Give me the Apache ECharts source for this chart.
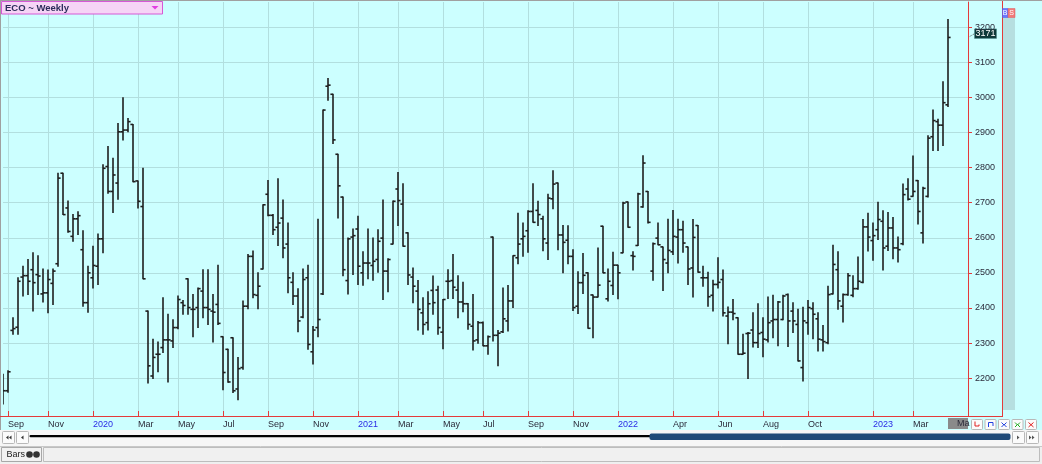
<!DOCTYPE html>
<html><head><meta charset="utf-8">
<script src="https://cdn.jsdelivr.net/npm/echarts@6/dist/echarts.min.js"></script>
<style>html,body{margin:0;padding:0;background:#ccffff;overflow:hidden}#c{width:1042px;height:464px}</style>
</head><body><div id="c"></div>
<script>
const title = 'ECO ~ Weekly';
const opens = [2205,2164,2336,2345,2488,2492,2509,2495,2440,2443,2470,2526,2784,2685,2604,2654,2566,2415,2486,2519,
2597,2803,2732,2756,2902,2907,2923,2762,2689,2391,2206,2268,2287,2309,2306,2344,2415,2483,2396,2401,
2448,2401,2391,2410,2318,2282,2315,2169,2230,2405,2547,2436,2511,2724,2664,2630,2656,2582,2473,2434,
2374,2486,2275,2344,2440,3032,3009,2838,2716,2478,2602,2625,2500,2528,2521,2538,2599,2505,2582,2739,
2696,2614,2488,2448,2386,2358,2450,2451,2331,2476,2478,2451,2417,2412,2348,2309,2358,2292,2602,2322,
2332,2363,2420,2543,2597,2620,2675,2678,2654,2585,2711,2756,2608,2593,2547,2405,2472,2500,2437,2431,
2633,2426,2464,2522,2557,2702,2549,2578,2688,2732,2505,2599,2574,2528,2560,2602,2623,2574,2514,2635,
2486,2486,2436,2467,2481,2377,2388,2372,2268,2327,2337,2301,2330,2309,2363,2367,2367,2438,2391,2353,
2230,2358,2398,2369,2309,2301,2440,2509,2405,2438,2436,2455,2473,2631,2592,2623,2647,2576,2628,2571,
2583,2739,2718,2763,2614,2718,2888,2931,2921,2979];
const highs = [2211,2221,2372,2486,2519,2538,2557,2549,2511,2508,2511,2784,2784,2705,2666,2674,2620,2519,2576,2611,
2808,2860,2827,2926,2999,2940,2923,2762,2798,2391,2311,2303,2429,2382,2366,2434,2421,2483,2438,2457,
2509,2509,2438,2522,2318,2282,2315,2259,2420,2552,2562,2500,2694,2763,2666,2768,2708,2642,2500,2455,
2511,2522,2347,2653,2964,3054,3009,2838,2716,2599,2625,2661,2560,2625,2599,2623,2708,2540,2705,2786,
2754,2614,2514,2478,2429,2446,2491,2462,2424,2509,2552,2492,2473,2413,2438,2361,2360,2320,2602,2336,
2457,2464,2549,2670,2642,2677,2754,2704,2661,2724,2791,2756,2635,2634,2566,2503,2555,2500,2437,2571,
2633,2511,2559,2522,2701,2702,2560,2727,2834,2732,2585,2642,2574,2653,2678,2653,2647,2574,2652,2635,
2519,2502,2479,2543,2508,2403,2424,2372,2325,2330,2386,2412,2372,2431,2436,2418,2436,2440,2415,2396,
2402,2421,2415,2386,2350,2462,2579,2560,2440,2498,2492,2545,2652,2670,2642,2701,2677,2672,2658,2602,
2753,2768,2833,2763,2744,2891,2964,2938,3045,3222];
const lows = [2126,2160,2325,2325,2434,2438,2391,2438,2417,2386,2410,2519,2666,2616,2590,2609,2405,2388,2457,2467,
2557,2727,2672,2710,2879,2902,2760,2685,2483,2186,2199,2218,2273,2189,2287,2341,2382,2382,2318,2344,
2372,2353,2303,2353,2167,2188,2159,2138,2225,2398,2429,2398,2511,2663,2609,2578,2543,2443,2410,2332,
2372,2282,2240,2318,2438,2992,2869,2656,2492,2440,2495,2467,2465,2483,2479,2502,2424,2446,2582,2635,
2576,2467,2415,2337,2325,2337,2382,2325,2284,2427,2427,2372,2389,2339,2280,2299,2292,2268,2306,2235,
2330,2334,2401,2526,2547,2559,2644,2635,2563,2538,2683,2566,2500,2526,2393,2384,2441,2342,2315,2431,
2500,2420,2438,2426,2557,2630,2508,2578,2687,2642,2479,2580,2450,2500,2552,2528,2559,2467,2431,2502,
2462,2405,2391,2457,2377,2298,2366,2268,2268,2199,2289,2287,2261,2303,2315,2292,2366,2290,2330,2249,
2192,2325,2312,2277,2277,2298,2440,2396,2360,2436,2432,2453,2472,2562,2536,2595,2508,2564,2540,2531,
2580,2708,2718,2639,2585,2716,2849,2849,2863,2974];
const closes = [2164,2218,2341,2476,2492,2476,2472,2491,2443,2481,2505,2770,2666,2618,2654,2663,2415,2500,2521,2597,
2798,2732,2779,2902,2907,2931,2760,2704,2483,2235,2259,2268,2309,2309,2344,2424,2407,2401,2396,2455,
2401,2396,2388,2356,2216,2189,2164,2227,2405,2547,2438,2462,2694,2664,2623,2642,2571,2486,2434,2363,
2481,2296,2337,2367,2964,3035,2879,2748,2509,2597,2606,2519,2528,2528,2533,2590,2505,2538,2704,2706,
2576,2494,2462,2396,2353,2412,2415,2344,2424,2476,2459,2417,2412,2353,2306,2358,2292,2318,2322,2328,
2369,2420,2549,2582,2604,2675,2644,2666,2597,2713,2753,2608,2587,2547,2401,2472,2493,2342,2431,2465,
2500,2476,2522,2500,2699,2630,2547,2725,2813,2644,2583,2580,2538,2564,2604,2623,2585,2511,2601,2502,
2486,2432,2467,2473,2386,2388,2384,2268,2271,2328,2301,2327,2311,2358,2367,2417,2434,2363,2363,2249,
2363,2401,2382,2311,2304,2438,2524,2420,2438,2492,2455,2476,2631,2602,2606,2652,2571,2628,2571,2566,
2723,2710,2732,2675,2741,2884,2934,2921,2985,3171];
const monthTicks = [[1,'Sep'],[9,'Nov'],[18,'2020'],[27,'Mar'],[35,'May'],[44,'Jul'],[53,'Sep'],[62,'Nov'],
[71,'2021'],[79,'Mar'],[88,'May'],[96,'Jul'],[105,'Sep'],[114,'Nov'],[123,'2022'],[134,'Apr'],[143,'Jun'],
[152,'Aug'],[161,'Oct'],[174,'2023'],[182,'Mar']];
const priceTicks = [2200,2300,2400,2500,2600,2700,2800,2900,3000,3100,3200];

const slotCount = 194;
const categories = Array.from({length: slotCount}, (_, i) => String(i));
const tickMap = new Map(monthTicks);
const FONT = '"Liberation Sans", Arial, sans-serif';
const RED = '#e43a3a';
const GRID = '#b2dfdf';

const ohlc = opens.map((o, i) => [i, o, highs[i], lows[i], closes[i]]);

function renderItem(params, api) {
  const i = api.value(0);
  const pO = api.coord([i, api.value(1)]);
  const pH = api.coord([i, api.value(2)]);
  const pL = api.coord([i, api.value(3)]);
  const pC = api.coord([i, api.value(4)]);
  const x = pO[0];
  const st = {stroke: '#1e1e1e', lineWidth: 1.6};
  return {type: 'group', children: [
    {type: 'line', shape: {x1: x, y1: pH[1] - 0.5, x2: x, y2: pL[1] + 0.5}, style: st},
    {type: 'line', shape: {x1: x - 2.6, y1: pO[1], x2: x, y2: pO[1]}, style: st},
    {type: 'line', shape: {x1: x, y1: pC[1], x2: x + 2.6, y2: pC[1]}, style: st}
  ]};
}

const chart = echarts.init(document.getElementById('c'), null, {renderer: 'canvas'});
const option = {
  backgroundColor: '#ccffff',
  animation: false,
  grid: {left: 3, right: 74, top: 2, bottom: 48},
  xAxis: {
    type: 'category', data: categories, boundaryGap: false,
    axisLine: {show: false},
    axisTick: {show: true, inside: true, length: 5, interval: (i) => tickMap.has(i), lineStyle: {color: RED}},
    axisLabel: {
      interval: (i) => tickMap.has(i), align: 'left', margin: 4,
      formatter: (v, i) => { const t = tickMap.get(i) || ''; return /^\d+$/.test(t) ? '{y|' + t + '}' : '{m|' + t + '}'; },
      rich: {
        m: {color: '#2b2b3a', fontSize: 9, fontFamily: FONT},
        y: {color: '#2a2ae6', fontSize: 9, fontFamily: FONT}
      }
    },
    splitLine: {show: true, interval: (i) => tickMap.has(i), lineStyle: {color: GRID, width: 1}}
  },
  yAxis: {
    type: 'value', position: 'right', min: 2092, max: 3272,
    minInterval: 100, maxInterval: 100,
    axisLine: {show: true, lineStyle: {color: RED}},
    axisTick: {show: true, length: 4, customValues: priceTicks, lineStyle: {color: RED}},
    axisLabel: {customValues: priceTicks, margin: 7, color: '#2b2b3a', fontSize: 9, fontFamily: FONT, padding: [0, 0, 6, 0],
      formatter: (v) => String(Math.round(v))},
    splitLine: {show: true, lineStyle: {color: GRID, width: 1}}
  },
  series: [{
    type: 'custom', renderItem: renderItem, data: ohlc, clip: true,
    encode: {x: 0, y: [1, 2, 3, 4]}
  }]
};
chart.setOption(option);

const last = closes[closes.length - 1];
const ly = chart.convertToPixel({yAxisIndex: 0}, last);

function btn(x, y, w, h) {
  return {type: 'rect', shape: {x: x + 0.5, y: y + 0.5, width: w, height: h, r: 1}, style: {fill: '#fbfbfb', stroke: '#b8b8b8', lineWidth: 1}};
}
const g = [
  {type: 'rect', shape: {x: 0, y: 0, width: 1042, height: 1}, style: {fill: '#a0a0a0'}},
  {type: 'rect', shape: {x: 0, y: 0, width: 1, height: 430}, style: {fill: '#a0a0a0'}},
  {type: 'rect', shape: {x: 1.5, y: 1.5, width: 161, height: 12.5}, style: {fill: '#f6d4f6', stroke: '#d658d6', lineWidth: 1}},
  {type: 'text', x: 5, y: 8, style: {text: title, fill: '#2c2c5a', font: 'bold 9.5px ' + FONT, textVerticalAlign: 'middle'}},
  {type: 'polygon', shape: {points: [[151.5, 6], [158.5, 6], [155, 9.5]]}, style: {fill: '#e23ee2'}},
  {type: 'line', shape: {x1: 0, y1: 416.5, x2: 1002, y2: 416.5}, style: {stroke: RED, lineWidth: 1}},
  {type: 'line', shape: {x1: 1002.5, y1: 1, x2: 1002.5, y2: 417}, style: {stroke: RED, lineWidth: 1}},
  {type: 'rect', shape: {x: 1003, y: 17, width: 12, height: 393}, style: {fill: '#b6dfe0'}},
  {type: 'rect', shape: {x: 1002.5, y: 8.5, width: 5.5, height: 9}, style: {fill: '#6a78ff', stroke: '#4a58e8', lineWidth: 0.5}},
  {type: 'text', x: 1005.2, y: 13, style: {text: 'B', fill: '#fff', font: '7px ' + FONT, textAlign: 'center', textVerticalAlign: 'middle'}},
  {type: 'rect', shape: {x: 1008, y: 8.5, width: 7, height: 9}, style: {fill: '#f07a7a', stroke: '#e05a5a', lineWidth: 0.5}},
  {type: 'text', x: 1011.5, y: 13, style: {text: 'S', fill: '#fff', font: '7px ' + FONT, textAlign: 'center', textVerticalAlign: 'middle'}},
  {type: 'line', shape: {x1: 968, y1: ly, x2: 975, y2: ly - 4}, style: {stroke: '#333', lineWidth: 0.8, lineDash: [1, 1]}},
  {type: 'rect', shape: {x: 974.5, y: ly - 8.5, width: 22, height: 9.5}, style: {fill: '#0e3838', stroke: '#4a8a8a', lineWidth: 0.5}},
  {type: 'text', x: 985.5, y: ly - 3.6, style: {text: String(last), fill: '#ffffff', font: '9px ' + FONT, textAlign: 'center', textVerticalAlign: 'middle'}},
  {type: 'rect', shape: {x: 948, y: 418, width: 20, height: 11}, style: {fill: '#8a8a8a'}},
  {type: 'text', x: 957, y: 424, style: {text: 'Ma', fill: '#2b2b3a', font: '9px ' + FONT, textVerticalAlign: 'middle'}},
  btn(971, 419, 11, 10), btn(984.5, 419, 11, 10), btn(998, 419, 11, 10), btn(1011.5, 419, 11, 10), btn(1025, 419, 11, 10),
  {type: 'polyline', shape: {points: [[975, 421.5], [975, 426], [979, 426], [979, 424.5]]}, style: {stroke: '#e02020', lineWidth: 1, fill: null}},
  {type: 'polyline', shape: {points: [[988.5, 427], [988.5, 422.5], [993, 422.5], [993, 426]]}, style: {stroke: '#2040e0', lineWidth: 1, fill: null}},
  {type: 'polyline', shape: {points: [[1001.5, 422.5], [1004, 425], [1006.5, 422.5]]}, style: {stroke: '#2040e0', lineWidth: 1, fill: null}},
  {type: 'polyline', shape: {points: [[1001.5, 427], [1004, 424.5], [1006.5, 427]]}, style: {stroke: '#2040e0', lineWidth: 1, fill: null}},
  {type: 'polyline', shape: {points: [[1015, 422.5], [1017.5, 425], [1020, 422.5]]}, style: {stroke: '#20b020', lineWidth: 1, fill: null}},
  {type: 'polyline', shape: {points: [[1015, 427], [1017.5, 424.5], [1020, 427]]}, style: {stroke: '#20b020', lineWidth: 1, fill: null}},
  {type: 'line', shape: {x1: 1028.5, y1: 422.5, x2: 1033.5, y2: 427}, style: {stroke: '#e02020', lineWidth: 1}},
  {type: 'line', shape: {x1: 1033.5, y1: 422.5, x2: 1028.5, y2: 427}, style: {stroke: '#e02020', lineWidth: 1}},
  {type: 'rect', shape: {x: 0, y: 430, width: 1042, height: 16}, style: {fill: '#f6f6f6'}},
  btn(2, 431, 12, 12), btn(16, 431, 12, 12), btn(1012, 431, 12, 12), btn(1026, 431, 12, 12),
  {type: 'polygon', shape: {points: [[6, 437.5], [8.5, 435.5], [8.5, 439.5]]}, style: {fill: '#333'}},
  {type: 'polygon', shape: {points: [[9, 437.5], [11.5, 435.5], [11.5, 439.5]]}, style: {fill: '#333'}},
  {type: 'polygon', shape: {points: [[21, 437.5], [23.5, 435.5], [23.5, 439.5]]}, style: {fill: '#333'}},
  {type: 'polygon', shape: {points: [[1019.5, 437.5], [1017, 435.5], [1017, 439.5]]}, style: {fill: '#555'}},
  {type: 'polygon', shape: {points: [[1031.5, 437.5], [1029, 435.5], [1029, 439.5]]}, style: {fill: '#555'}},
  {type: 'polygon', shape: {points: [[1034.5, 437.5], [1032, 435.5], [1032, 439.5]]}, style: {fill: '#555'}},
  {type: 'rect', shape: {x: 29.5, y: 435, width: 622, height: 2.2, r: 1}, style: {fill: '#000'}},
  {type: 'rect', shape: {x: 649.5, y: 433.5, width: 361, height: 6.5, r: 2}, style: {fill: '#1f4a78'}},
  {type: 'rect', shape: {x: 0, y: 446, width: 1042, height: 18}, style: {fill: '#efefef'}},
  {type: 'line', shape: {x1: 0, y1: 446.5, x2: 1042, y2: 446.5}, style: {stroke: '#c8c8c8', lineWidth: 1}},
  {type: 'rect', shape: {x: 1.5, y: 447.5, width: 40, height: 14}, style: {fill: '#f2f2f2', stroke: '#a8a8a8', lineWidth: 1}},
  {type: 'text', x: 6.5, y: 454.8, style: {text: 'Bars', fill: '#222', font: '9px ' + FONT, textVerticalAlign: 'middle'}},
  {type: 'circle', shape: {cx: 29.5, cy: 454.5, r: 3.3}, style: {fill: '#333'}},
  {type: 'circle', shape: {cx: 36.5, cy: 454.5, r: 3.3}, style: {fill: '#333'}},
  {type: 'rect', shape: {x: 43.5, y: 447.5, width: 996, height: 14}, style: {fill: '#f0f0f0', stroke: '#bdbdbd', lineWidth: 1}}
];
chart.setOption({graphic: g});
</script></body></html>
